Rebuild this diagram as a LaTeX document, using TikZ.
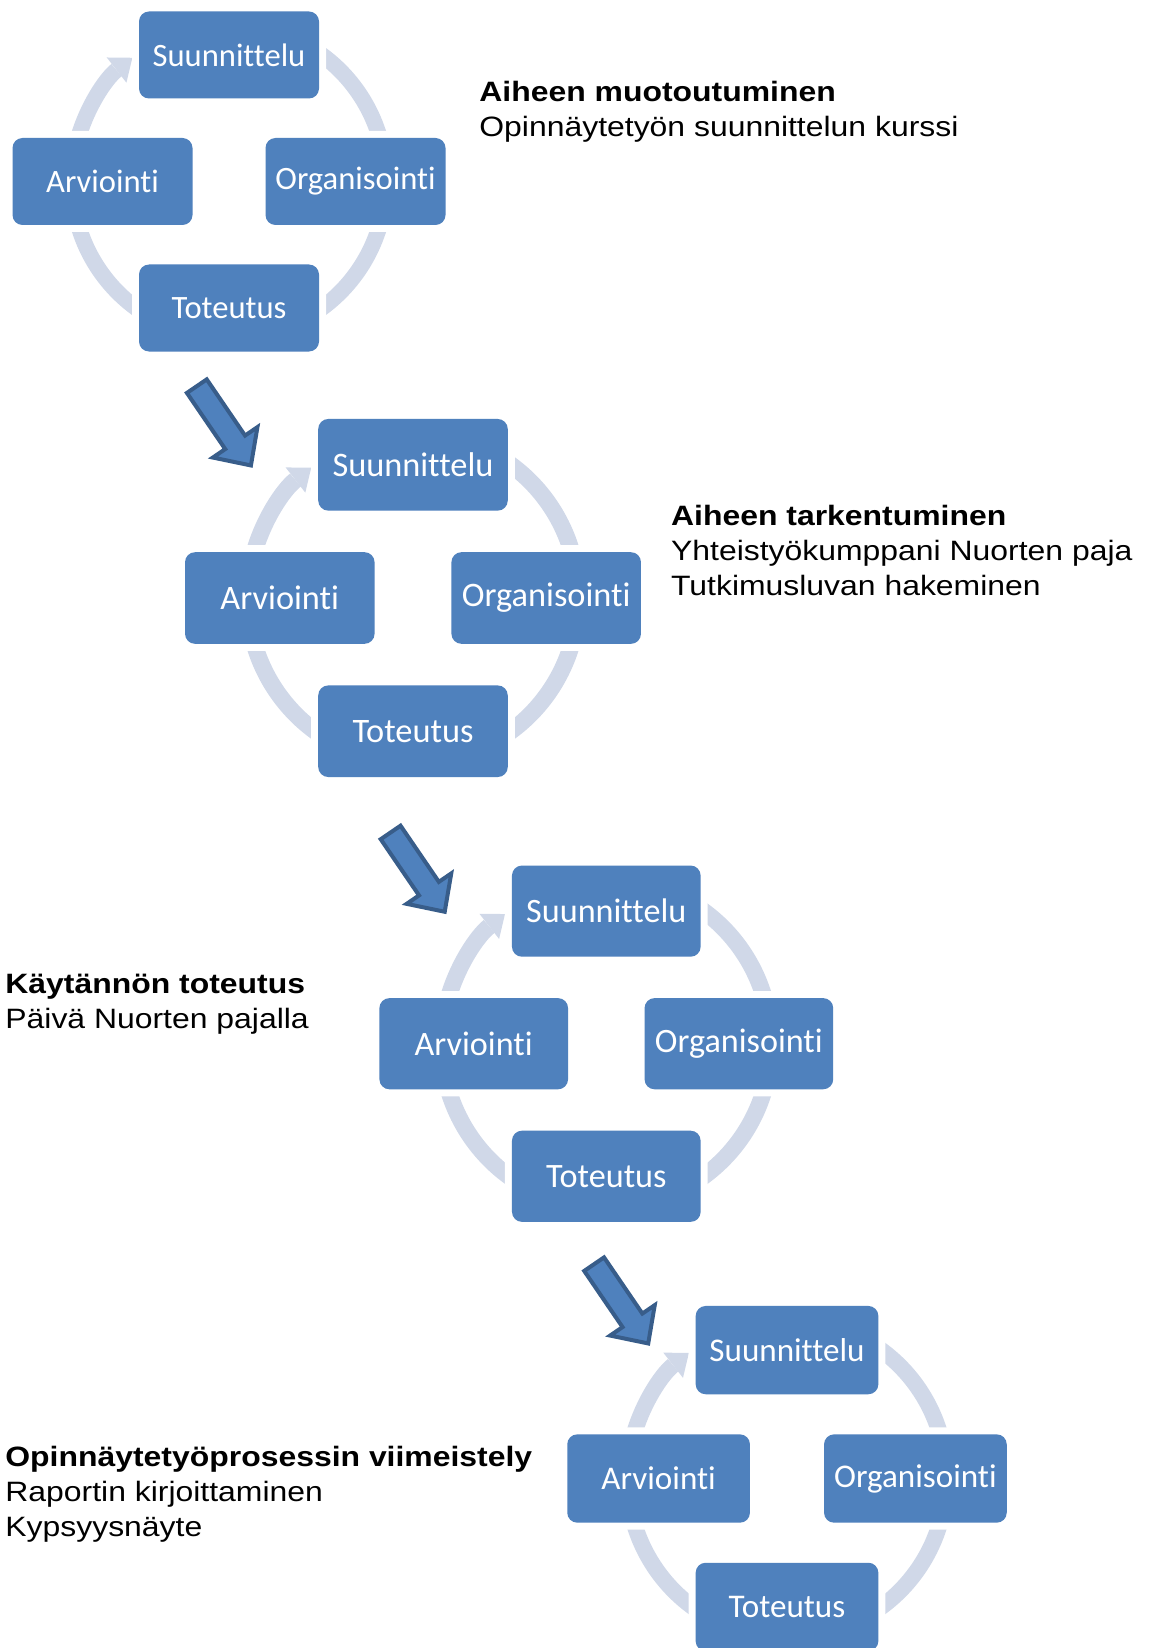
\documentclass[tikz,border=0pt]{standalone}
\usepackage{fontspec}
\setmainfont{Liberation Sans}[FakeStretch=1.14]
\newfontfamily\boxfont{Carlito}[Ligatures={NoCommon,NoContextual}]
\usetikzlibrary{arrows.meta}

\definecolor{boxblue}{HTML}{4F81BD}
\definecolor{ringgray}{HTML}{D0D8E8}
\definecolor{arrowedge}{HTML}{385D8A}

\begin{document}
\begin{tikzpicture}[x=0.5pt, y=0.5pt,
    phasebox/.style={fill=boxblue, text=white, rounded corners=5pt, inner sep=0pt,
        preaction={draw=white, line width=7pt}},
    cyclering/.style={draw=ringgray},
    phasearrow/.style={fill=boxblue, draw=arrowedge, line width=2pt},
    phasetext/.style={anchor=base west, align=left, inner sep=0pt,
        font=\fontsize{14}{17.5}\selectfont}]

% Page
\useasboundingbox (0,0) rectangle (1148,-1648);

% Cycles
\foreach \i/\cx/\cy/\s in {1/229/-181.5/1, 2/413/-598/1.053, 3/606.3/-1043.7/1.048, 4/787/-1478.5/1.015}
{
    \pgfmathsetmacro\r{157*\s}
    \pgfmathsetmacro\d{126.5*\s}
    \pgfmathsetmacro\fs{16.3*\s}
    \pgfmathsetmacro\lw{8*\s}
    \coordinate (c\i) at (\cx,\cy);

    % Ring
    \draw[cyclering, line width=\lw pt] (c\i) ++(60:\r) arc[start angle=60, end angle=15, radius=\r];
    \draw[cyclering, line width=\lw pt] (c\i) ++(-15:\r) arc[start angle=-15, end angle=-60, radius=\r];
    \draw[cyclering, line width=\lw pt] (c\i) ++(-120:\r) arc[start angle=-120, end angle=-165, radius=\r];
    \draw[cyclering, line width=\lw pt, -{Triangle[width=16pt, length=10pt, line width=0pt]}]
        (c\i) ++(165:\r) arc[start angle=165, end angle=128, radius=\r];

    % Phases
    \path (c\i) ++(0,\d) node[phasebox, minimum width=\s*90pt, minimum height=\s*43.5pt,
        font=\boxfont\fontsize{\fs}{\fs}\selectfont] (suu\i) {Suunnittelu};
    \path (c\i) ++(\d,0) node[phasebox, minimum width=\s*90pt, minimum height=\s*43.5pt,
        font=\boxfont\fontsize{\fs}{\fs}\selectfont] (org\i) {Organisointi};
    \path (c\i) ++(0,-\d) node[phasebox, minimum width=\s*90pt, minimum height=\s*43.5pt,
        font=\boxfont\fontsize{\fs}{\fs}\selectfont] (tot\i) {Toteutus};
    \path (c\i) ++(-\d,0) node[phasebox, minimum width=\s*90pt, minimum height=\s*43.5pt,
        font=\boxfont\fontsize{\fs}{\fs}\selectfont] (arv\i) {Arviointi};
}

% Arrows between cycles
\foreach \ax/\ay in {195.7/-384.5, 389.5/-830.8, 593/-1262.5}
{
    \draw[phasearrow, shift={(\ax,\ay)}, rotate=-55.7]
        (2,-12) -- (70,-12) -- (70,-27) -- (98,0) -- (70,27) -- (70,12) -- (2,12) -- cycle;
}

% Descriptions (base = last line)
\node[phasetext] (muoto) at (479,-136.7)
    {\textbf{Aiheen muotoutuminen}\\Opinnäytetyön suunnittelun kurssi};
\node[phasetext] (tarkennus) at (670.7,-595)
    {\textbf{Aiheen tarkentuminen}\\Yhteistyökumppani Nuorten paja\\Tutkimusluvan hakeminen};
\node[phasetext] (kaytanto) at (5,-1028)
    {\textbf{Käytännön toteutus}\\Päivä Nuorten pajalla};
\node[phasetext] (viimeistely) at (5,-1536.7)
    {\textbf{Opinnäytetyöprosessin viimeistely}\\Raportin kirjoittaminen\\Kypsyysnäyte};

\end{tikzpicture}
\end{document}
